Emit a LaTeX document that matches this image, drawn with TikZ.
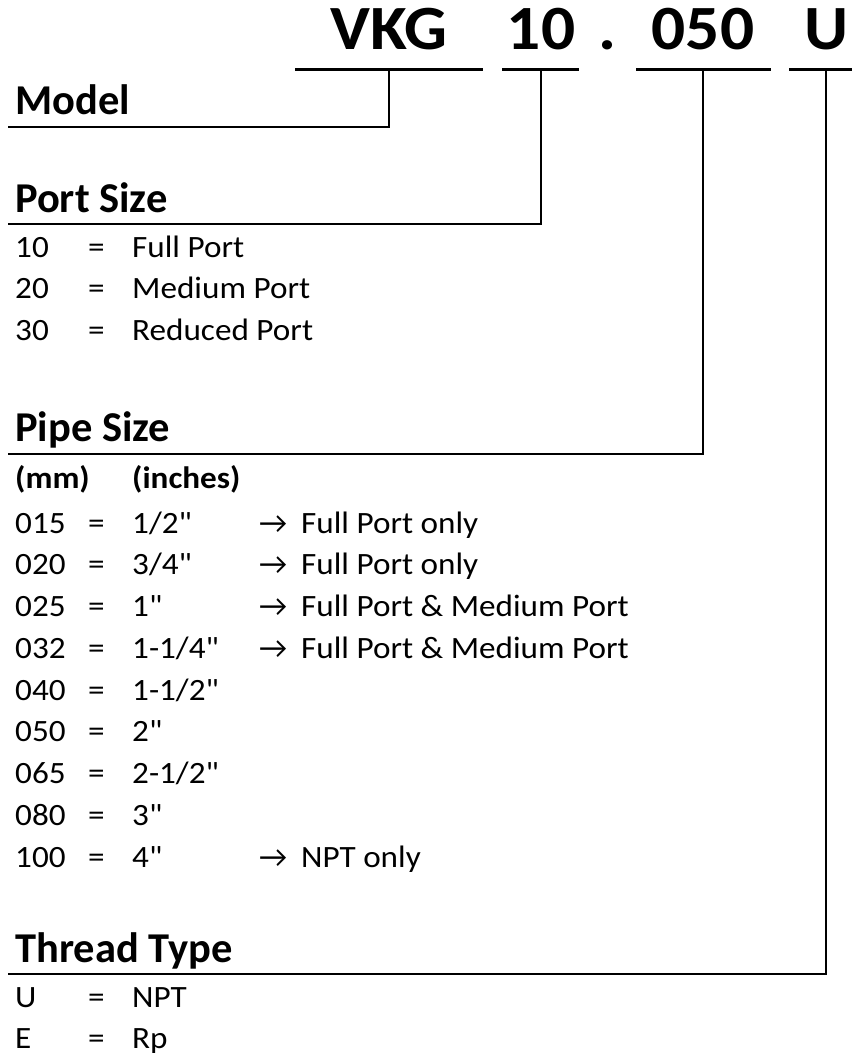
\documentclass[tikz,border=0pt]{standalone}
\usepackage{fontspec}
\setmainfont{Carlito}
\newfontfamily\widefont{Carlito}[FakeStretch=1.07]
\usetikzlibrary{positioning}
\newcommand{\inch}{\textquotedbl}
\tikzset{
  code/.style={font=\widefont\bfseries\fontsize{63}{76}\selectfont, anchor=base, inner sep=0pt},
  heading/.style={font=\bfseries\fontsize{42.5}{50}\selectfont, anchor=base west, inner sep=0pt},
  entry/.style={font=\widefont\fontsize{31}{37}\selectfont, anchor=base west, inner sep=0pt},
  colhead/.style={font=\widefont\bfseries\fontsize{31}{37}\selectfont, anchor=base west, inner sep=0pt},
  arrowmark/.style={font=\fontsize{31}{37}\selectfont, anchor=base west, inner sep=0pt},
  bar/.style={line width=3pt},
  link/.style={line width=2.7pt}
}

\begin{document}
\begin{tikzpicture}[x=1pt, y=-1pt]
  \useasboundingbox (0,0) rectangle (852,1057);

  % part number
  \node[code] (vkg) at (389,50) {VKG};
  \node[code] (port) at (541,50) {10};
  \node[code] (dot) at (607,50) {.};
  \node[code] (pipe) at (703,50) {050};
  \node[code] (thread) at (826,50) {U};

  \coordinate (b1l) at (295,70);  \coordinate (b1r) at (483,70);
  \coordinate (b2l) at (502,70);  \coordinate (b2r) at (579,70);
  \coordinate (b3l) at (636,70);  \coordinate (b3r) at (771,70);
  \coordinate (b4l) at (789,70);  \coordinate (b4r) at (852,70);
  \draw[bar] (b1l) -- (b1r);
  \draw[bar] (b2l) -- (b2r);
  \draw[bar] (b3l) -- (b3r);
  \draw[bar] (b4l) -- (b4r);

  % headings
  \node[heading] (model) at (15,114) {Model};
  \node[heading] (portsize) at (15,212) {Port Size};
  \node[heading] (pipesize) at (15,441) {Pipe Size};
  \node[heading] (threadtype) at (15,962) {Thread Type};

  \coordinate (u1) at (8,127);
  \coordinate (u2) at (8,224);
  \coordinate (u3) at (8,454);
  \coordinate (u4) at (8,974);
  \draw[link] (vkg |- b1l) |- (u1);
  \draw[link] (port |- b2l) |- (u2);
  \draw[link] (pipe |- b3l) |- (u3);
  \draw[link] (thread |- b4l) |- (u4);

  % port size
  \foreach \c/\v [count=\i from 0] in {10/Full Port, 20/Medium Port, 30/Reduced Port} {
    \node[entry] (pc-\i) at (15,257+\i*41.5) {\c};
    \node[entry] (pe-\i) at (88,257+\i*41.5) {=};
    \node[entry] (pv-\i) at (132,257+\i*41.5) {\v};
  }

  % pipe size
  \node[colhead] (mm) at (15,488) {(mm)};
  \node[colhead] (inch) at (132,488) {(inches)};
  \foreach \c/\v [count=\i from 0] in {015/{1/2\inch}, 020/{3/4\inch}, 025/1\inch, 032/{1-1/4\inch}, 040/{1-1/2\inch}, 050/2\inch, 065/{2-1/2\inch}, 080/3\inch, 100/4\inch} {
    \node[entry] (sc-\i) at (15,533+\i*41.75) {\c};
    \node[entry] (se-\i) at (88,533+\i*41.75) {=};
    \node[entry] (sv-\i) at (132,533+\i*41.75) {\v};
  }
  \foreach \i/\n in {0/Full Port only, 1/Full Port only, 2/Full Port \& Medium Port, 3/Full Port \& Medium Port, 8/NPT only} {
    \node[arrowmark] (sa-\i) at (259,533+\i*41.75) {→};
    \node[entry] (sn-\i) at (301,533+\i*41.75) {\n};
  }

  % thread type
  \foreach \c/\v [count=\i from 0] in {U/NPT, E/Rp} {
    \node[entry] (tc-\i) at (15,1007+\i*41.5) {\c};
    \node[entry] (te-\i) at (88,1007+\i*41.5) {=};
    \node[entry] (tv-\i) at (132,1007+\i*41.5) {\v};
  }
\end{tikzpicture}
\end{document}
